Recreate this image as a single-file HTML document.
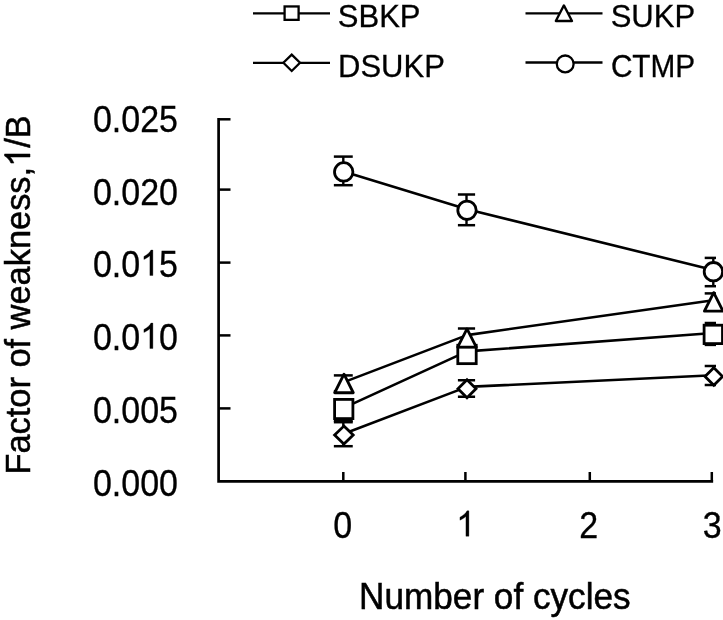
<!DOCTYPE html>
<html><head><meta charset="utf-8"><style>
html,body{margin:0;padding:0;background:#fff;width:723px;height:620px;overflow:hidden}
svg{display:block;will-change:transform}
text{font-family:"Liberation Sans",sans-serif;fill:#000;stroke:#000;stroke-width:0.3px;font-kerning:none}
</style></head><body>
<svg width="723" height="620" viewBox="0 0 723 620"><path d="M218.6 119.3 V481.4 H711.8" fill="none" stroke="#000" stroke-width="2.7" stroke-linejoin="miter" stroke-linecap="square"/>
<line x1="218" y1="119.3" x2="230.5" y2="119.3" stroke="#000" stroke-width="2.5"/>
<line x1="218" y1="189.6" x2="230.5" y2="189.6" stroke="#000" stroke-width="2.5"/>
<line x1="218" y1="262.6" x2="230.5" y2="262.6" stroke="#000" stroke-width="2.5"/>
<line x1="218" y1="335.4" x2="230.5" y2="335.4" stroke="#000" stroke-width="2.5"/>
<line x1="218" y1="408.4" x2="230.5" y2="408.4" stroke="#000" stroke-width="2.5"/>
<line x1="343.3" y1="481" x2="343.3" y2="472" stroke="#000" stroke-width="2.5"/>
<line x1="465.4" y1="481" x2="465.4" y2="472" stroke="#000" stroke-width="2.5"/>
<line x1="589.8" y1="481" x2="589.8" y2="472" stroke="#000" stroke-width="2.5"/>
<line x1="711.8" y1="481" x2="711.8" y2="472" stroke="#000" stroke-width="2.5"/>
<path d="M343.75 407.90 L467 351.40 L713.3 333.00" fill="none" stroke="#000" stroke-width="2.6" stroke-linejoin="round"/>
<line x1="343.3" y1="400.4" x2="343.3" y2="420.9" stroke="#000" stroke-width="2.4"/>
<line x1="333.85" y1="400.4" x2="352.75" y2="400.4" stroke="#000" stroke-width="2.5"/>
<line x1="333.85" y1="420.9" x2="352.75" y2="420.9" stroke="#000" stroke-width="2.5"/>
<rect x="334.6" y="399.4" width="18.3" height="19.2" fill="#fff" stroke="#000" stroke-width="2.8"/>
<line x1="466.5" y1="350" x2="466.5" y2="360" stroke="#000" stroke-width="2.4"/>
<line x1="457.9" y1="350" x2="475.1" y2="350" stroke="#000" stroke-width="2.5"/>
<line x1="457.9" y1="360" x2="475.1" y2="360" stroke="#000" stroke-width="2.5"/>
<rect x="457.8" y="345.25" width="18.4" height="18.4" fill="#fff" stroke="#000" stroke-width="2.8"/>
<line x1="713.3" y1="323" x2="713.3" y2="344.9" stroke="#000" stroke-width="2.4"/>
<line x1="704.6999999999999" y1="323" x2="716" y2="323" stroke="#000" stroke-width="2.5"/>
<line x1="704.6999999999999" y1="344.9" x2="716" y2="344.9" stroke="#000" stroke-width="2.5"/>
<rect x="704.0999999999999" y="325.2" width="18.4" height="18.4" fill="#fff" stroke="#000" stroke-width="2.8"/>
<path d="M343.9 382.10 L467 335.10 L713.3 300.20" fill="none" stroke="#000" stroke-width="2.6" stroke-linejoin="round"/>
<line x1="343.3" y1="375.4" x2="343.3" y2="391.2" stroke="#000" stroke-width="2.4"/>
<line x1="333.85" y1="375.4" x2="352.75" y2="375.4" stroke="#000" stroke-width="2.5"/>
<line x1="333.85" y1="391.2" x2="352.75" y2="391.2" stroke="#000" stroke-width="2.5"/>
<path d="M344.0 374.2 L353.3 392.75 L334.7 392.75 Z" fill="#fff" stroke="#000" stroke-width="2.8" stroke-linejoin="round"/>
<line x1="466.5" y1="328.5" x2="466.5" y2="347" stroke="#000" stroke-width="2.4"/>
<line x1="457.9" y1="328.5" x2="475.1" y2="328.5" stroke="#000" stroke-width="2.5"/>
<line x1="457.9" y1="347" x2="475.1" y2="347" stroke="#000" stroke-width="2.5"/>
<path d="M467 328.9 L476.3 347.2 L457.7 347.2 Z" fill="#fff" stroke="#000" stroke-width="2.8" stroke-linejoin="round"/>
<line x1="713.3" y1="293.4" x2="713.3" y2="309.5" stroke="#000" stroke-width="2.4"/>
<line x1="704.6999999999999" y1="293.4" x2="716" y2="293.4" stroke="#000" stroke-width="2.5"/>
<line x1="704.6999999999999" y1="309.5" x2="716" y2="309.5" stroke="#000" stroke-width="2.5"/>
<path d="M713.7 292.6 L723.0 311.2 L704.4000000000001 311.2 Z" fill="#fff" stroke="#000" stroke-width="2.8" stroke-linejoin="round"/>
<path d="M343.9 433.80 L467 386.90 L713.3 375.30" fill="none" stroke="#000" stroke-width="2.6" stroke-linejoin="round"/>
<line x1="343.3" y1="422.2" x2="343.3" y2="446.2" stroke="#000" stroke-width="2.4"/>
<line x1="333.85" y1="422.2" x2="352.75" y2="422.2" stroke="#000" stroke-width="2.5"/>
<line x1="333.85" y1="446.2" x2="352.75" y2="446.2" stroke="#000" stroke-width="2.5"/>
<path d="M343.9 426.1 L353.2 435.1 L343.9 444.1 L334.59999999999997 435.1 Z" fill="#fff" stroke="#000" stroke-width="2.8" stroke-linejoin="miter"/>
<line x1="466.5" y1="380.25" x2="466.5" y2="396.75" stroke="#000" stroke-width="2.4"/>
<line x1="457.9" y1="380.25" x2="475.1" y2="380.25" stroke="#000" stroke-width="2.5"/>
<line x1="457.9" y1="396.75" x2="475.1" y2="396.75" stroke="#000" stroke-width="2.5"/>
<path d="M467 379.7 L476.0 388.7 L467 397.7 L458.0 388.7 Z" fill="#fff" stroke="#000" stroke-width="2.8" stroke-linejoin="miter"/>
<line x1="713.3" y1="366" x2="713.3" y2="385" stroke="#000" stroke-width="2.4"/>
<line x1="704.6999999999999" y1="366" x2="716" y2="366" stroke="#000" stroke-width="2.5"/>
<line x1="704.6999999999999" y1="385" x2="716" y2="385" stroke="#000" stroke-width="2.5"/>
<path d="M713.8 367.7 L722.5999999999999 376.5 L713.8 385.3 L705.0 376.5 Z" fill="#fff" stroke="#000" stroke-width="2.8" stroke-linejoin="miter"/>
<path d="M343.5 171.40 L467 209.20 L713.3 270.00" fill="none" stroke="#000" stroke-width="2.6" stroke-linejoin="round"/>
<line x1="343.3" y1="156.6" x2="343.3" y2="185.2" stroke="#000" stroke-width="2.4"/>
<line x1="333.85" y1="156.6" x2="352.75" y2="156.6" stroke="#000" stroke-width="2.5"/>
<line x1="333.85" y1="185.2" x2="352.75" y2="185.2" stroke="#000" stroke-width="2.5"/>
<circle cx="343.7" cy="171.9" r="9.2" fill="#fff" stroke="#000" stroke-width="2.8"/>
<line x1="466.5" y1="194.5" x2="466.5" y2="225.2" stroke="#000" stroke-width="2.4"/>
<line x1="457.9" y1="194.5" x2="475.1" y2="194.5" stroke="#000" stroke-width="2.5"/>
<line x1="457.9" y1="225.2" x2="475.1" y2="225.2" stroke="#000" stroke-width="2.5"/>
<circle cx="467" cy="210.3" r="9.2" fill="#fff" stroke="#000" stroke-width="2.8"/>
<line x1="713.3" y1="257.9" x2="713.3" y2="286.2" stroke="#000" stroke-width="2.4"/>
<line x1="704.6999999999999" y1="257.9" x2="716" y2="257.9" stroke="#000" stroke-width="2.5"/>
<line x1="704.6999999999999" y1="286.2" x2="716" y2="286.2" stroke="#000" stroke-width="2.5"/>
<circle cx="713.4" cy="271.7" r="9.2" fill="#fff" stroke="#000" stroke-width="2.8"/>
<line x1="253" y1="13.3" x2="330" y2="13.3" stroke="#000" stroke-width="2.3"/>
<rect x="284.6" y="6.45" width="14" height="13.4" fill="#fff" stroke="#000" stroke-width="2.3"/>
<line x1="253" y1="62.9" x2="330" y2="62.9" stroke="#000" stroke-width="2.3"/>
<path d="M291.7 54.6 L300.0 62.8 L291.7 71.0 L283.4 62.8 Z" fill="#fff" stroke="#000" stroke-width="2.3"/>
<line x1="525.5" y1="13.4" x2="602.5" y2="13.4" stroke="#000" stroke-width="2.3"/>
<path d="M563.9 5.4 L572.0 21.0 L555.8 21.0 Z" fill="#fff" stroke="#000" stroke-width="2.3" stroke-linejoin="round"/>
<line x1="525.5" y1="62.5" x2="602.5" y2="62.5" stroke="#000" stroke-width="2.3"/>
<circle cx="565.2" cy="63.9" r="8.4" fill="#fff" stroke="#000" stroke-width="2.3"/>
<text x="337.7926" y="26.8" font-size="31" text-anchor="start" font-family="Liberation Sans, sans-serif" >SBKP</text>
<text x="338.05800000000005" y="76.5" font-size="31" text-anchor="start" font-family="Liberation Sans, sans-serif" >DSUKP</text>
<text x="610.6926" y="27.2" font-size="31" text-anchor="start" font-family="Liberation Sans, sans-serif" >SUKP</text>
<text transform="translate(610.888,77.0) scale(0.96,1)" x="0" y="0" font-size="31" font-family="Liberation Sans, sans-serif">CTMP</text>
<g transform="translate(92.946,119.050) scale(1,1.1)"><text x="0" y="11.703" font-size="34" font-family="Liberation Sans, sans-serif">0.025</text></g>
<g transform="translate(92.946,192.200) scale(1,1.1)"><text x="0" y="11.703" font-size="34" font-family="Liberation Sans, sans-serif">0.020</text></g>
<g transform="translate(92.946,264.100) scale(1,1.1)"><text x="0" y="11.703" font-size="34" font-family="Liberation Sans, sans-serif">0.0 5</text><path transform="translate(47.265,10.359) scale(0.016602,-0.015688)" d="M763 0h-180v1147q-65 -62 -170.5 -124t-189.5 -93v174q151 71 264 172t160 196h116v-1472z" fill="#000" stroke="#000" stroke-width="18.07"/></g>
<g transform="translate(92.946,337.100) scale(1,1.1)"><text x="0" y="11.703" font-size="34" font-family="Liberation Sans, sans-serif">0.0 0</text><path transform="translate(47.265,10.359) scale(0.016602,-0.015688)" d="M763 0h-180v1147q-65 -62 -170.5 -124t-189.5 -93v174q151 71 264 172t160 196h116v-1472z" fill="#000" stroke="#000" stroke-width="18.07"/></g>
<g transform="translate(92.946,410.100) scale(1,1.1)"><text x="0" y="11.703" font-size="34" font-family="Liberation Sans, sans-serif">0.005</text></g>
<g transform="translate(92.946,483.200) scale(1,1.1)"><text x="0" y="11.703" font-size="34" font-family="Liberation Sans, sans-serif">0.000</text></g>
<g transform="translate(333.145,524.850) scale(1,1.1)"><text x="0" y="11.703" font-size="34" font-family="Liberation Sans, sans-serif">0</text></g>
<g transform="translate(456.245,524.850) scale(1,1.1)"><text x="0" y="11.703" font-size="34" font-family="Liberation Sans, sans-serif"> </text><path transform="translate(0.000,10.359) scale(0.016602,-0.015688)" d="M763 0h-180v1147q-65 -62 -170.5 -124t-189.5 -93v174q151 71 264 172t160 196h116v-1472z" fill="#000" stroke="#000" stroke-width="18.07"/></g>
<g transform="translate(579.145,524.850) scale(1,1.1)"><text x="0" y="11.703" font-size="34" font-family="Liberation Sans, sans-serif">2</text></g>
<g transform="translate(702.845,524.850) scale(1,1.1)"><text x="0" y="11.703" font-size="34" font-family="Liberation Sans, sans-serif">3</text></g>
<text transform="translate(359.03,608.8) scale(1.005,1.04)" x="0" y="0" font-size="35" style="stroke-width:0.5px" font-family="Liberation Sans, sans-serif">Number of cycles</text>
<g transform="translate(30,471.8) rotate(-90) scale(1,1.03)"><text x="-2.821" y="0" font-size="34.4" style="stroke-width:0.5px" font-family="Liberation Sans, sans-serif">Factor of weakness, /B</text><path transform="translate(304.999,0) scale(0.016797,-0.016797)" d="M763 0h-180v1147q-65 -62 -170.5 -124t-189.5 -93v174q151 71 264 172t160 196h116v-1472z" fill="#000" stroke="#000" stroke-width="29.77"/></g></svg>
</body></html>
